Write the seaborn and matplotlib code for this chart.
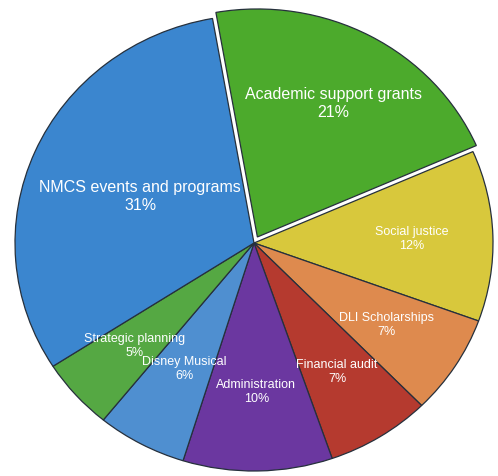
import numpy as np
import matplotlib.pyplot as plt
import seaborn as sns

# dados do gráfico (sentido horário a partir do topo)
categorias = ["Academic support grants", "Social justice", "DLI Scholarships",
              "Financial audit", "Administration", "Disney Musical",
              "Strategic planning", "NMCS events and programs"]
percentagens = [21, 12, 7, 7, 10, 6, 5, 31]
cores_hex = ["#4caa2c", "#d8c83c", "#de8a4e", "#b53a2f",
             "#6b37a0", "#4f8fd0", "#55a843", "#3b86cf"]

# estilo
explode = [0.03, 0, 0, 0, 0, 0, 0, 0]
dist_rotulo = [0.67, 0.66, 0.66, 0.66, 0.65, 0.62, 0.67, 0.52]
tam_fonte = [11.5, 9, 9, 9, 9, 9, 9, 11.5]

sns.set_theme(style="white")
plt.rcParams['font.family'] = ['Liberation Sans', 'DejaVu Sans']

fig = plt.figure(figsize=(4.98, 4.77), dpi=100)
ax = fig.add_axes([0, 0, 1, 1])

cores = sns.color_palette(cores_hex)
wedges, _ = ax.pie(percentagens, colors=cores, startangle=100, counterclock=False,
                   explode=explode, normalize=True,
                   wedgeprops=dict(edgecolor="#26303c", linewidth=0.9))

# rótulos dentro das fatias
for w, nome, pct, d, fs in zip(wedges, categorias, percentagens, dist_rotulo, tam_fonte):
    ang = np.deg2rad((w.theta1 + w.theta2) / 2)
    cx, cy = w.center
    x = cx + d * np.cos(ang)
    y = cy + d * np.sin(ang)
    ax.text(x, y, f"{nome}\n{pct}%", ha="center", va="center", color="white",
            fontsize=fs, linespacing=1.2)

# mapear o círculo para a área da imagem (ligeiramente elíptico)
ax.set_aspect("auto")
ax.set_xlim(-254 / 239, (498 - 254) / 239)
ax.set_ylim((244 - 477) / 228, 244 / 228)
ax.axis("off")

fig.savefig("out.png", dpi=100, facecolor="white")
